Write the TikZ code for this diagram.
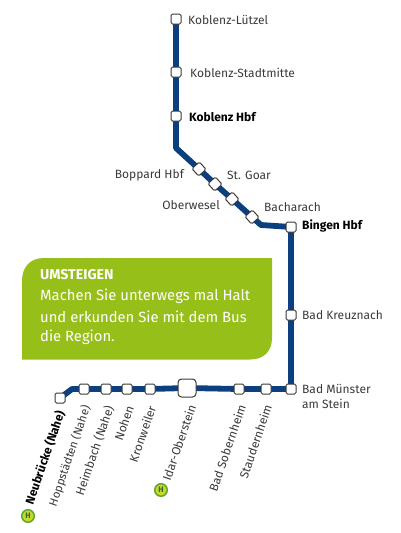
\documentclass[tikz,border=0pt]{standalone}
\usepackage{fontspec}
\setmainfont{Fira Sans}
\usetikzlibrary{backgrounds}
\definecolor{lineblue}{HTML}{0B3F7E}
\definecolor{boxgreen}{HTML}{97BF1A}
\definecolor{labelgrey}{HTML}{3A3A3A}
\definecolor{busfill}{HTML}{C9D92B}
\definecolor{busring}{HTML}{5FA82E}
\definecolor{busletter}{HTML}{2F6B2A}
\tikzset{
 stn/.style={draw=labelgrey,fill=white,line width=1pt,rounded corners=1.5pt,minimum size=10pt,inner sep=0pt},
 tilted/.style={stn,rotate=42},
 bigstn/.style={stn,minimum size=18pt,rounded corners=3.5pt},
 lbl/.style={text=labelgrey,font=\fontsize{12}{14}\selectfont,inner sep=0pt},
 blbl/.style={lbl,text=black,font=\fontsize{12}{14}\selectfont\bfseries},
 rlbl/.style={rotate=71,anchor=east},
 boxtext/.style={anchor=west,inner sep=0pt,text=white,font=\fontsize{14.8}{16}\selectfont},
 busmark/.style={circle,draw=busring,fill=busfill,line width=1.5pt,minimum size=12.5pt,inner sep=0pt,text=busletter,font=\fontsize{8}{8}\selectfont\bfseries},
 track/.style={draw=lineblue,line width=5.8pt,line join=round}
}
\begin{document}
\begin{tikzpicture}[x=1pt,y=-1pt]
\useasboundingbox (0,0) rectangle (400,533);
\coordinate (b1) at (176,148);
\coordinate (b2) at (261,225);
\coordinate (b3) at (72,389);
% stations
\node[stn] (kl) at (176,19) {};
\node[stn] (ks) at (176,72) {};
\node[stn] (kh) at (176,116) {};
\node[tilted] (bo) at (199,169) {};
\node[tilted] (sg) at (215,184) {};
\node[tilted] (ow) at (232,199) {};
\node[tilted] (ba) at (252,217) {};
\node[stn] (bi) at (291,227) {};
\node[stn] (kr) at (291,315) {};
\node[stn] (bm) at (291,389) {};
\node[stn] (st) at (266,389) {};
\node[stn] (so) at (239,389) {};
\node[bigstn] (io) at (187,388) {};
\node[stn] (kw) at (150,389) {};
\node[stn] (no) at (127,389) {};
\node[stn] (he) at (106,389) {};
\node[stn] (ho) at (84,389) {};
\node[stn] (ne) at (60,398) {};
\begin{scope}[on background layer]
\fill[boxgreen] (22,359.5) -- (22,281) .. controls (22,267) and (30,258) .. (44,258) -- (272,258) -- (272,338) .. controls (272,351) and (264,359.5) .. (250,359.5) -- cycle;
\draw[track] (kl.center) -- (ks.center) -- (kh.center) -- (b1) -- (bo.center) -- (sg.center) -- (ow.center) -- (ba.center) -- (b2) -- (bi.center) -- (kr.center) -- (bm.center) -- (st.center) -- (so.center) -- (io.center) -- (kw.center) -- (no.center) -- (he.center) -- (ho.center) -- (b3) -- (ne.center);
\end{scope}
% box text
\node[boxtext,font=\fontsize{14.2}{16}\selectfont\bfseries] (ttl) at (40,275) {UMSTEIGEN};
\node[boxtext] (l1) at (40,296.5) {Machen Sie unterwegs mal Halt};
\node[boxtext] (l2) at (40,316.5) {und erkunden Sie mit dem Bus};
\node[boxtext] (l3) at (40,337) {die Region.};
% labels
\node[lbl,anchor=west] at (188,20) {Koblenz-Lützel};
\node[lbl,anchor=west] at (190,73) {Koblenz-Stadtmitte};
\node[blbl,anchor=west] at (189,117) {Koblenz Hbf};
\node[lbl,anchor=east] at (184,175) {Boppard Hbf};
\node[lbl,anchor=west] at (227,175) {St. Goar};
\node[lbl,anchor=east] at (220,205) {Oberwesel};
\node[lbl,anchor=west] at (264,207) {Bacharach};
\node[blbl,anchor=west] at (302,226) {Bingen Hbf};
\node[lbl,anchor=west] at (302,315) {Bad Kreuznach};
\node[lbl,anchor=west] at (302,389) {Bad Münster};
\node[lbl,anchor=west] at (302,404) {am Stein};
\node[blbl,rlbl] at (61,411) {Neubrücke (Nahe)};
\node[lbl,rlbl,font=\fontsize{11.5}{14}\selectfont] at (87,406) {Hoppstädten (Nahe)};
\node[lbl,rlbl] at (110,406) {Heimbach (Nahe)};
\node[lbl,rlbl] at (130,406) {Nohen};
\node[lbl,rlbl] at (152,406) {Kronweiler};
\node[lbl,rlbl] at (192,405) {Idar-Oberstein};
\node[lbl,rlbl] at (242,405) {Bad Sobernheim};
\node[lbl,rlbl] at (268,405) {Staudernheim};
\node[busmark] (h1) at (28,516) {H};
\node[busmark] (h2) at (161,490) {H};
\end{tikzpicture}
\end{document}
